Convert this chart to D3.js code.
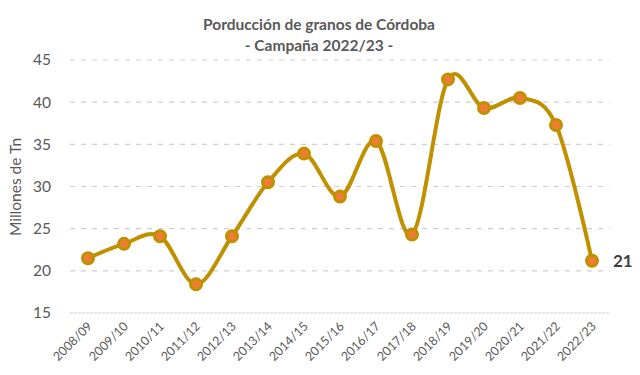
<!DOCTYPE html>
<html lang="es">
<head>
<meta charset="utf-8" />
<title>Producción de granos de Córdoba</title>
<script src="https://d3js.org/d3.v7.min.js"></script>
<style>
  body { margin: 0; background: #fff; }
  svg { display: block; font-family: Lato, "Open Sans", sans-serif; }
</style>
</head>
<body>
<svg id="chart" width="640" height="375"></svg>
<script>
const campaigns = ["2008/09", "2009/10", "2010/11", "2011/12", "2012/13", "2013/14", "2014/15",
  "2015/16", "2016/17", "2017/18", "2018/19", "2019/20", "2020/21", "2021/22", "2022/23"];
const production = [21.5, 23.2, 24.1, 18.4, 24.1, 30.5, 33.9, 28.8, 35.4, 24.3, 42.7, 39.3, 40.5, 37.3, 21.2];
const yTicks = [15, 20, 25, 30, 35, 40, 45];
const lastLabel = "21";

const svg = d3.select("#chart");
const plotLeft = 70, plotRight = 610, plotTop = 60, plotBottom = 313;

const x = d3.scaleBand().domain(campaigns).range([plotLeft, plotRight]);
const y = d3.scaleLinear().domain([15, 45]).range([plotBottom, plotTop]);
const cx = d => x(d) + x.bandwidth() / 2;

// title
const title = svg.append("text")
  .attr("x", 319).attr("text-anchor", "middle")
  .attr("fill", "#595959").attr("font-weight", "bold").attr("font-size", 15.5);
title.append("tspan").attr("x", 319).attr("y", 30).text("Porducción de granos de Córdoba");
title.append("tspan").attr("x", 319).attr("y", 51).text("- Campaña 2022/23 -");

// gridlines
svg.append("g").selectAll("line")
  .data(yTicks)
  .join("line")
  .attr("x1", plotLeft).attr("x2", plotRight)
  .attr("y1", d => y(d)).attr("y2", d => y(d))
  .attr("stroke", "#d0d0d0").attr("stroke-width", 1.2)
  .attr("stroke-dasharray", d => d === 15 ? "3,1" : "5,6");

// y axis labels
const yAxis = svg.append("g")
  .attr("transform", `translate(${plotLeft - 19},0)`)
  .call(d3.axisLeft(y).tickValues(yTicks).tickSize(0).tickPadding(0));
yAxis.select(".domain").remove();
yAxis.selectAll("text")
  .attr("fill", "#595959").attr("font-size", 15.5)
  .attr("font-family", "Lato, 'Open Sans', sans-serif");

svg.append("text")
  .attr("transform", "translate(21,187) rotate(-90)")
  .attr("text-anchor", "middle")
  .attr("fill", "#595959").attr("font-size", 15.5)
  .text("Millones de Tn");

// x axis labels
const xAxis = svg.append("g")
  .attr("transform", `translate(0,${plotBottom})`)
  .call(d3.axisBottom(x).tickSize(0).tickPadding(0));
xAxis.select(".domain").remove();
xAxis.selectAll("text")
  .attr("fill", "#595959").attr("font-size", 12.5)
  .attr("font-family", "Lato, 'Open Sans', sans-serif")
  .attr("text-anchor", "end")
  .attr("dy", 0)
  .attr("transform", "translate(5,14) rotate(-45)");

// line
const pts = campaigns.map((c, i) => [cx(c), y(production[i])]);
svg.append("path")
  .datum(pts)
  .attr("fill", "none")
  .attr("stroke", "#BF9000")
  .attr("stroke-width", 4)
  .attr("stroke-linejoin", "round")
  .attr("d", d3.line().curve(d3.curveCatmullRom.alpha(0)));

// markers
svg.append("g").selectAll("circle")
  .data(production)
  .join("circle")
  .attr("cx", (d, i) => cx(campaigns[i]))
  .attr("cy", d => y(d))
  .attr("r", 5.5)
  .attr("fill", "#ED7D31")
  .attr("stroke", "#BF9000")
  .attr("stroke-width", 3);

// last value label
const n = production.length - 1;
svg.append("text")
  .attr("x", cx(campaigns[n]) + 21)
  .attr("y", y(production[n]))
  .attr("dy", "0.36em")
  .attr("fill", "#404040").attr("font-weight", "bold").attr("font-size", 17)
  .text(lastLabel);
</script>
</body>
</html>
